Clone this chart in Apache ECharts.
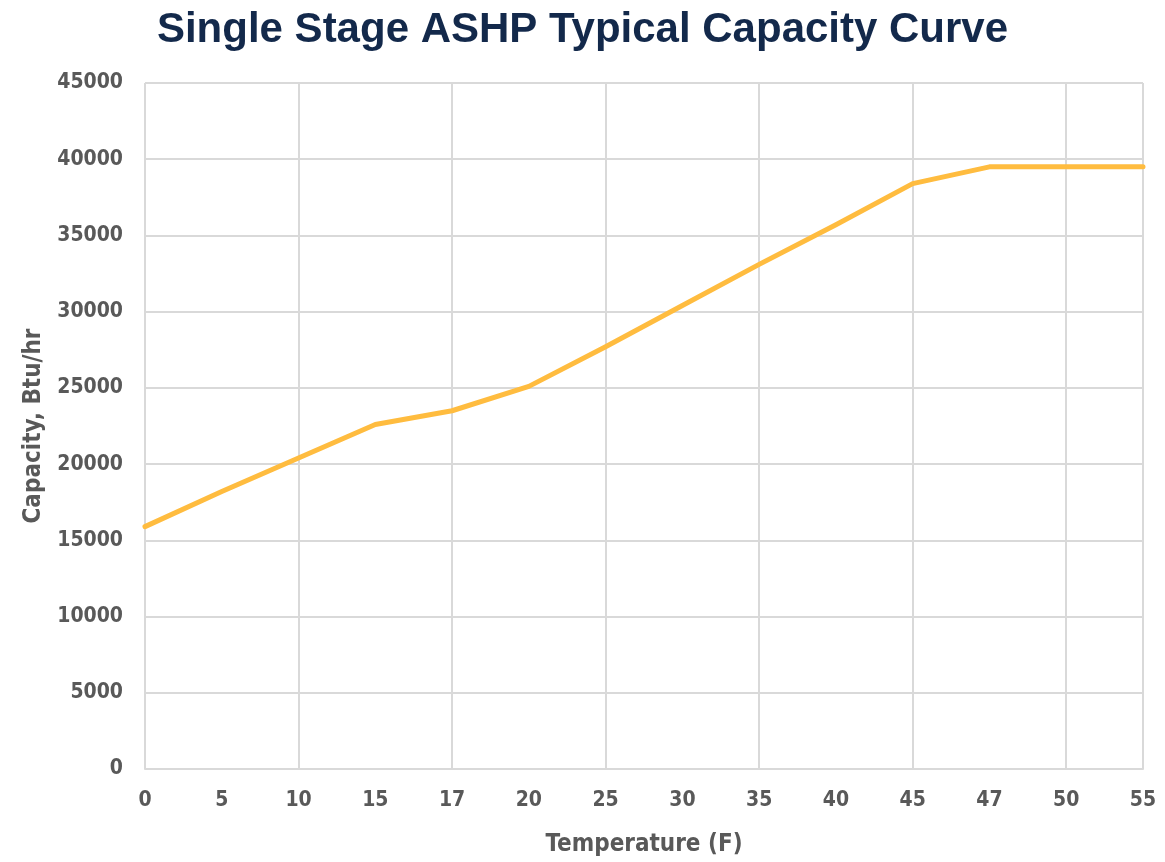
<!DOCTYPE html>
<html>
<head>
<meta charset="utf-8">
<title>Single Stage ASHP Typical Capacity Curve</title>
<script src="https://cdn.jsdelivr.net/npm/echarts@6/dist/echarts.min.js"></script>
<style>
  html, body { margin: 0; padding: 0; background: #ffffff; }
  #chart { width: 1165px; height: 862px; }
</style>
</head>
<body>
<div id="chart"></div>
<script>
// Outdoor temperature points (F) along the category axis
const temperatures = ['0', '5', '10', '15', '17', '20', '25', '30', '35', '40', '45', '47', '50', '55'];
// Heating capacity at each temperature (Btu/hr)
const capacity = [15900, 18200, 20400, 22600, 23500, 25100, 27700, 30400, 33100, 35700, 38400, 39500, 39500, 39500];

const labelFont = "'DejaVu Sans Condensed', Roboto, sans-serif";
const gridColor = '#d9d9d9';
const textColor = '#595959';

const chart = echarts.init(document.getElementById('chart'), null, { renderer: 'canvas' });
chart.setOption({
  backgroundColor: '#ffffff',
  animation: false,
  title: {
    text: 'Single Stage ASHP Typical Capacity Curve',
    left: 'center',
    top: 4,
    textStyle: {
      fontFamily: "'Liberation Sans', Arial, sans-serif",
      fontWeight: 'bold',
      fontSize: 42,
      color: '#13294b'
    }
  },
  grid: { left: 145, right: 22, top: 83, bottom: 87, containLabel: false },
  xAxis: {
    type: 'category',
    data: temperatures,
    boundaryGap: false,
    name: 'Temperature (F)',
    nameLocation: 'middle',
    nameGap: 64,
    nameTextStyle: { fontFamily: labelFont, fontSize: 24, fontWeight: 'bold', color: textColor },
    axisLine: { show: true, lineStyle: { color: gridColor, width: 2 } },
    axisTick: { show: false },
    axisLabel: { interval: 0, margin: 21, fontFamily: labelFont, fontSize: 21, fontWeight: 'bold', color: textColor },
    splitLine: { show: true, interval: 1, lineStyle: { color: gridColor, width: 2 } }
  },
  yAxis: {
    type: 'value',
    min: 0,
    max: 45000,
    interval: 5000,
    name: 'Capacity, Btu/hr',
    nameLocation: 'middle',
    nameGap: 99,
    nameRotate: 90,
    nameTextStyle: { fontFamily: labelFont, fontSize: 24, fontWeight: 'bold', color: textColor },
    axisLine: { show: false },
    axisTick: { show: false },
    axisLabel: {
      margin: 22,
      fontFamily: labelFont,
      fontSize: 21,
      fontWeight: 'bold',
      color: textColor,
      formatter: function (v) { return String(v); }
    },
    splitLine: { show: true, lineStyle: { color: gridColor, width: 2 } }
  },
  series: [{
    type: 'line',
    data: capacity,
    showSymbol: false,
    symbol: 'none',
    lineStyle: { color: '#ffbc3f', width: 5, cap: 'round', join: 'round' },
    itemStyle: { color: '#ffbc3f' }
  }]
});
</script>
</body>
</html>
